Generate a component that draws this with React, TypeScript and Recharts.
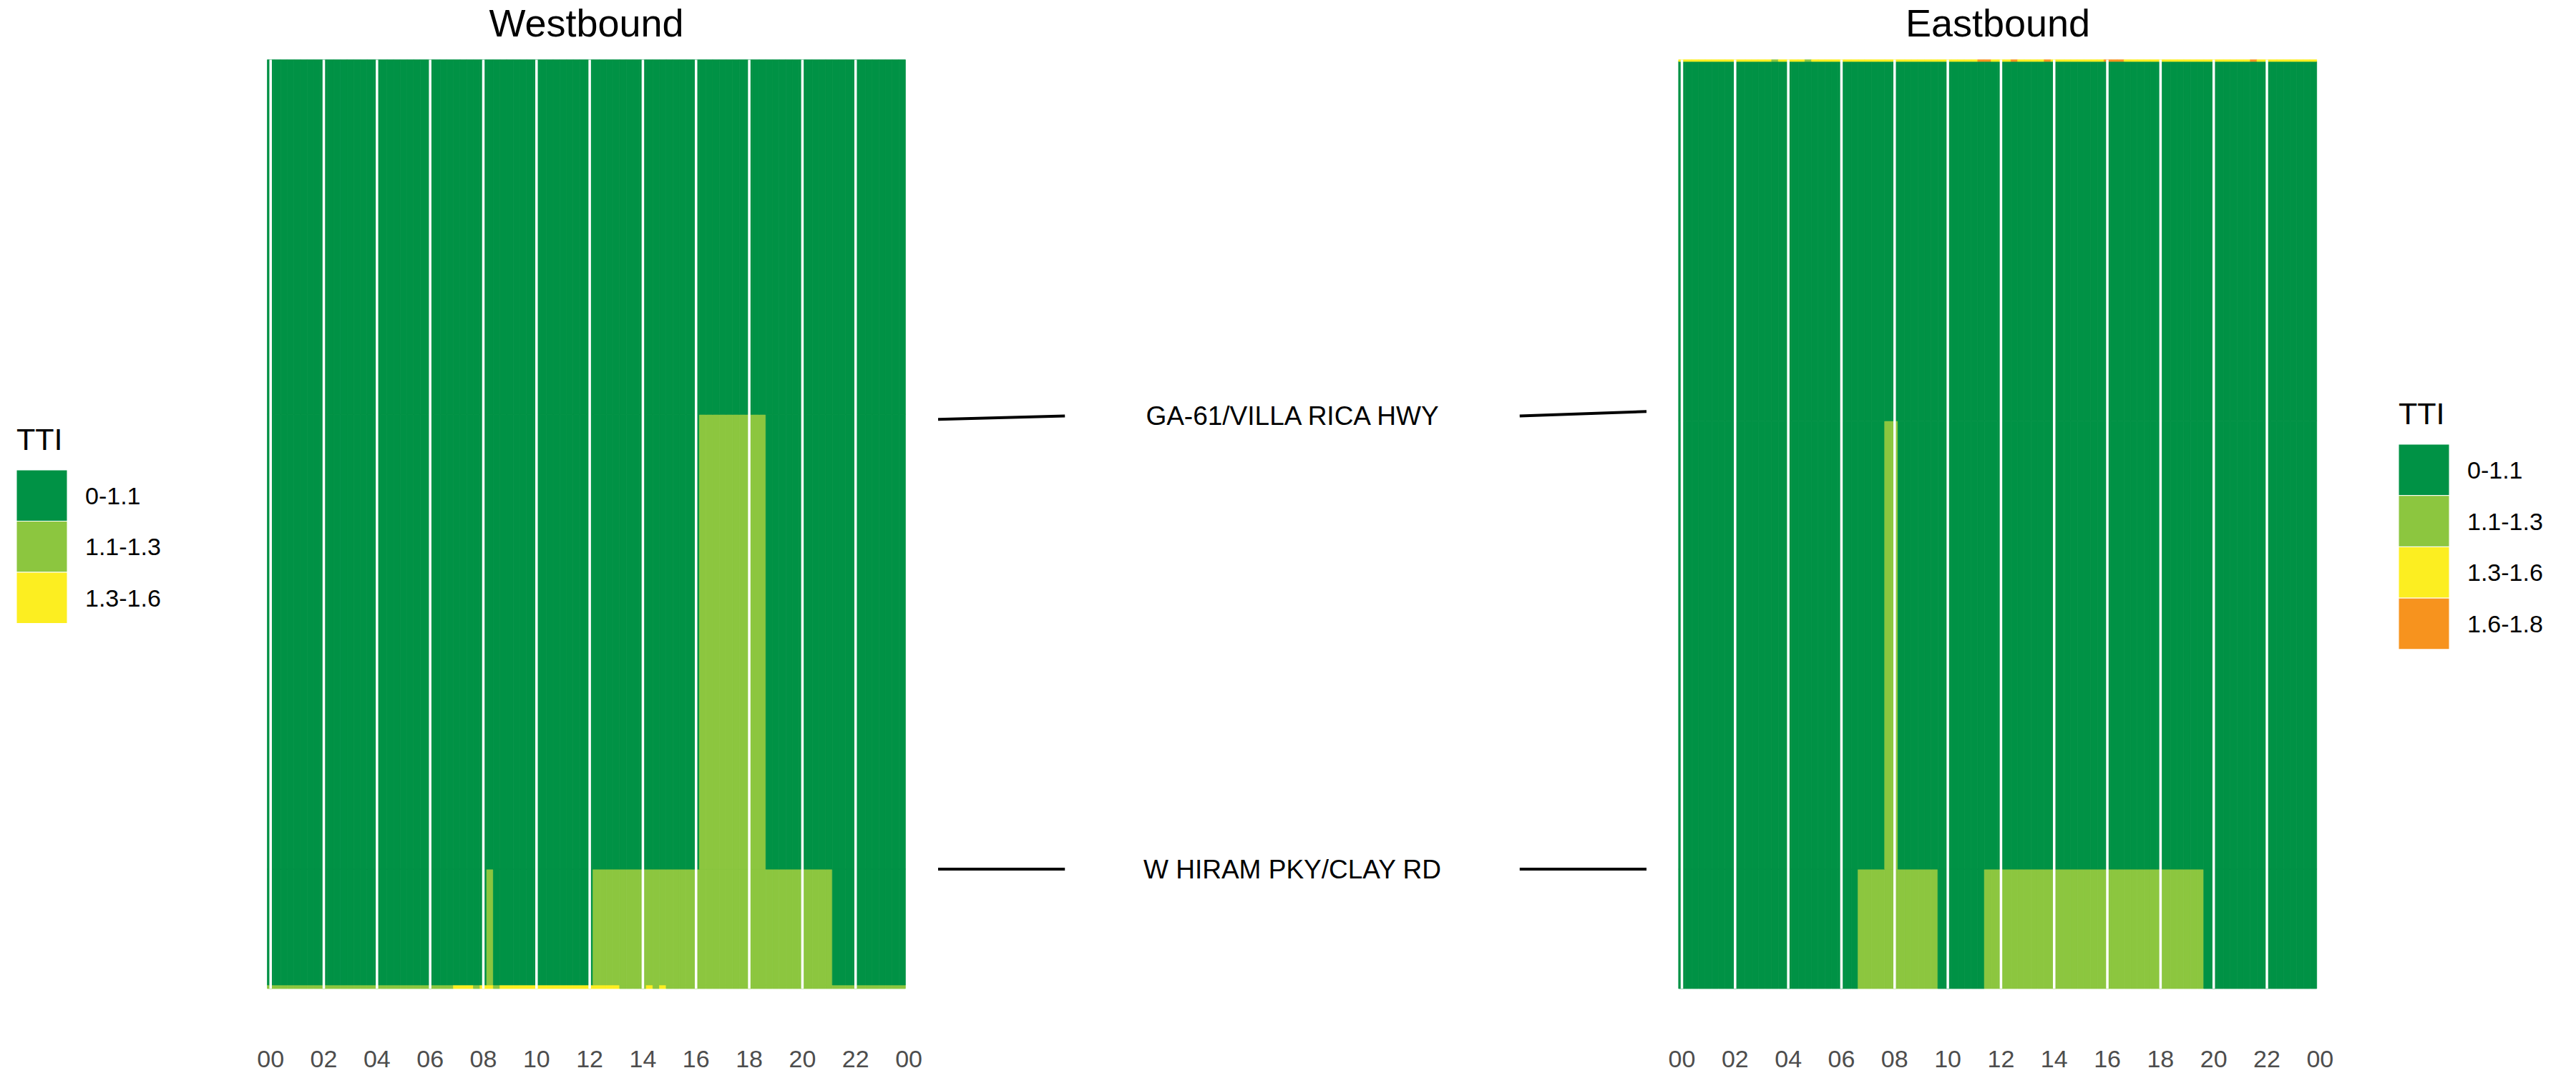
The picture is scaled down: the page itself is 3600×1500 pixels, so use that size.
import React from 'react';
import {
  BarChart,
  Bar,
  Cell,
  XAxis,
  YAxis,
  ReferenceLine,
  ComposedChart,
  Line,
  Scatter,
} from 'recharts';

const TTI_LABELS = ['0-1.1', '1.1-1.3', '1.3-1.6', '1.6-1.8'];
const TTI_COLORS = ['#009245', '#8CC63F', '#FCEE21', '#F7931E'];

const HOUR_TICKS = [0, 2, 4, 6, 8, 10, 12, 14, 16, 18, 20, 22, 24];

// segment lengths (mi), listed bottom -> top
const WEST_LENGTHS = [0.025, 0.797, 3.131, 2.442];
const EAST_LENGTHS = [0.822, 3.087, 2.474, 0.012];

// TTI class per 15-min bin (0 = 0-1.1 ... 3 = 1.6-1.8), one group of 4 per hour, bottom -> top
const WEST_ROWS = [
  '1111 1111 1111 1111 1111 1111 1111 2221 2212 2222 2222 2222 2222 2111 1212 1111 1111 1111 1111 1111 1111 1111 1111 1111',
  '0000 0000 0000 0000 0000 0000 0000 0000 0100 0000 0000 0000 0111 1111 1111 1111 1111 1111 1111 1111 1111 1000 0000 0000',
  '0000 0000 0000 0000 0000 0000 0000 0000 0000 0000 0000 0000 0000 0000 0000 0000 0111 1111 1110 0000 0000 0000 0000 0000',
  '0000 0000 0000 0000 0000 0000 0000 0000 0000 0000 0000 0000 0000 0000 0000 0000 0000 0000 0000 0000 0000 0000 0000 0000',
];
const EAST_ROWS = [
  '0000 0000 0000 0000 0000 0000 0001 1111 1111 1110 0000 0011 1111 1111 1111 1111 1111 1111 1111 1110 0000 0000 0000 0000',
  '0000 0000 0000 0000 0000 0000 0000 0001 1000 0000 0000 0000 0000 0000 0000 0000 0000 0000 0000 0000 0000 0000 0000 0000',
  '0000 0000 0000 0000 0000 0000 0000 0000 0000 0000 0000 0000 0000 0000 0000 0000 0000 0000 0000 0000 0000 0000 0000 0000',
  '2222 2222 2222 2212 2221 2222 2222 2222 2222 2222 2222 2332 2232 2223 2222 2222 3332 2222 2222 2222 2222 2232 2222 2222',
];

// intersection connectors (x: 0..1 across the gap, y: mi from bottom)
const GA_LEFT = [{ x: 0, y: 3.919 }, { x: 0.179, y: 3.943 }];
const GA_RIGHT = [{ x: 0.821, y: 3.943 }, { x: 1, y: 3.973 }];
const HIRAM_LEFT = [{ x: 0, y: 0.822 }, { x: 0.179, y: 0.822 }];
const HIRAM_RIGHT = [{ x: 0.821, y: 0.822 }, { x: 1, y: 0.822 }];
const NODE_LABELS = [
  { name: 'GA-61/VILLA RICA HWY', x: 0.5, y: 3.943 },
  { name: 'W HIRAM PKY/CLAY RD', x: 0.5, y: 0.822 },
];

const FONT = '"Liberation Sans", Arial, sans-serif';
const PX_PER_HOUR = 37.16;
const PLOT_W = 24.25 * PX_PER_HOUR;
const TOP = 83.5;
const BOTTOM = 118;
const TOTAL = 6.395;

const buildData = (lengths: number[]) => {
  const out: { [key: string]: number }[] = [];
  for (let i = 0; i < 96; i++) {
    const row: { [key: string]: number } = { t: i / 4 };
    lengths.forEach((len, r) => (row[`s${r}`] = len));
    out.push(row);
  }
  return out;
};

const pad = (h: number) => String(h % 24).padStart(2, '0');

interface PanelProps {
  lengths: number[];
  rows: string[];
  left: number;
  zeroX: number;
  width: number;
}

const HeatPanel = ({ lengths, rows, left, zeroX, width }: PanelProps) => {
  const data = buildData(lengths);
  const codes = rows.map((r) => r.replace(/\s/g, '').split('').map(Number));
  const plotLeft = zeroX - 0.125 * PX_PER_HOUR - left;
  return (
    <div style={{ position: 'absolute', left, top: 0 }}>
      <BarChart
        width={width}
        height={1500}
        data={data}
        barCategoryGap={0}
        margin={{ top: TOP, bottom: 0, left: plotLeft, right: width - plotLeft - PLOT_W }}
      >
        <XAxis
          type="number"
          dataKey="t"
          domain={[-0.125, 24.125]}
          ticks={HOUR_TICKS}
          interval={0}
          tickFormatter={pad}
          axisLine={false}
          tickLine={false}
          height={BOTTOM}
          tickMargin={80}
          tick={{ fontSize: 34, fill: '#4D4D4D', fontFamily: FONT }}
        />
        <YAxis type="number" domain={[0, TOTAL]} hide />
        {lengths.map((_, r) => (
          <Bar
            key={r}
            dataKey={`s${r}`}
            stackId="seg"
            barSize={PX_PER_HOUR * 0.25 - 0.04}
            isAnimationActive={false}
          >
            {data.map((_, i) => (
              <Cell
                key={i}
                fill={TTI_COLORS[codes[r][i]]}
                stroke={TTI_COLORS[codes[r][i]]}
                strokeWidth={0.8}
              />
            ))}
          </Bar>
        ))}
        {HOUR_TICKS.filter((h) => h < 24).map((h) => (
          <ReferenceLine key={h} x={h} stroke="#FFFFFF" strokeWidth={3.5} />
        ))}
      </BarChart>
    </div>
  );
};

const NodeLabel = (props: any) => (
  <text
    x={props.cx}
    y={props.cy + 13}
    textAnchor="middle"
    fontSize={37}
    fontFamily={FONT}
    fill="#000"
  >
    {props.payload.name}
  </text>
);

const Connectors = () => (
  <div style={{ position: 'absolute', left: 1311, top: 0 }}>
    <ComposedChart width={990} height={1500} margin={{ top: TOP, bottom: BOTTOM, left: 0, right: 0 }}>
      <XAxis type="number" dataKey="x" domain={[0, 1]} hide />
      <YAxis type="number" dataKey="y" domain={[0, TOTAL]} hide />
      {[GA_LEFT, GA_RIGHT, HIRAM_LEFT, HIRAM_RIGHT].map((seg, i) => (
        <Line
          key={i}
          data={seg}
          dataKey="y"
          type="linear"
          stroke="#000"
          strokeWidth={4}
          dot={false}
          isAnimationActive={false}
        />
      ))}
      <Scatter data={NODE_LABELS} dataKey="y" shape={NodeLabel} isAnimationActive={false} />
    </ComposedChart>
  </div>
);

const LegendBox = ({ x, titleY, top, count, size }: { x: number; titleY: number; top: number; count: number; size: number }) => (
  <g>
    <text x={x} y={titleY} fontSize={43} fontFamily={FONT} fill="#000">
      TTI
    </text>
    {TTI_LABELS.slice(0, count).map((lab, i) => (
      <g key={lab}>
        <rect
          x={x}
          y={top + i * size}
          width={71}
          height={size}
          fill={TTI_COLORS[i]}
          stroke="#FFFFFF"
          strokeWidth={1}
        />
        <text x={x + 96} y={top + i * size + size / 2 + 12} fontSize={34} fontFamily={FONT} fill="#000">
          {lab}
        </text>
      </g>
    ))}
  </g>
);

export default function App() {
  return (
    <div
      style={{
        position: 'absolute',
        left: 0,
        top: 0,
        width: 3600,
        height: 1500,
        background: '#FFFFFF',
        fontFamily: FONT,
        overflow: 'hidden',
      }}
    >
      <HeatPanel lengths={WEST_LENGTHS} rows={WEST_ROWS} left={0} zeroX={378.2} width={1300} />
      <HeatPanel lengths={EAST_LENGTHS} rows={EAST_ROWS} left={2300} zeroX={2350.5} width={1000} />
      <Connectors />
      <svg width={3600} height={1500} style={{ position: 'absolute', left: 0, top: 0, pointerEvents: 'none' }}>
        <text x={819.5} y={51} textAnchor="middle" fontSize={54} fontFamily={FONT} fill="#000">
          Westbound
        </text>
        <text x={2792} y={51} textAnchor="middle" fontSize={54} fontFamily={FONT} fill="#000">
          Eastbound
        </text>
        <LegendBox x={23} titleY={629} top={657} count={3} size={71.5} />
        <LegendBox x={3352} titleY={593} top={621} count={4} size={71.7} />
      </svg>
    </div>
  );
}
